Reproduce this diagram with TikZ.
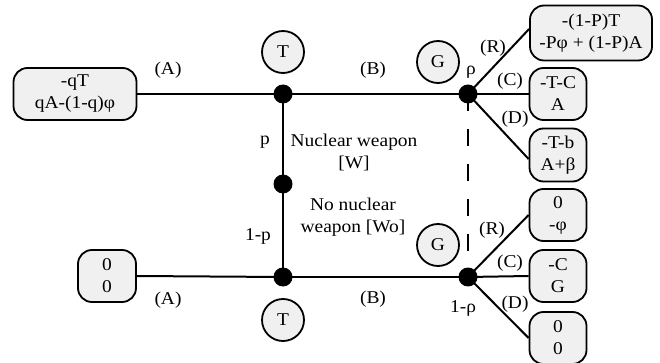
\documentclass[tikz,border=0pt]{standalone}
\usepackage{fontspec}
\setmainfont{Liberation Serif}[FakeStretch=1.08]
\pgfdeclarelayer{bg}
\pgfsetlayers{bg,main}
\begin{document}
\begin{tikzpicture}[x=1pt,y=-1pt,
  dotnode/.style={circle,fill=black,minimum size=19pt,inner sep=0pt},
  player/.style={circle,draw,line width=1.8pt,fill=black!6,minimum size=42pt,inner sep=0pt,font=\fontsize{18}{22}\selectfont},
  payoff/.style={draw,line width=1.8pt,fill=black!6,rounded corners=14pt,align=center,inner sep=0pt,font=\fontsize{18}{22}\selectfont},
  edge/.style={line width=2pt},
  lbl/.style={inner sep=0pt,align=center,font=\fontsize{18}{22}\selectfont}]
\useasboundingbox (0,0) rectangle (660,363);
% junctions
\node[dotnode] (j1) at (283,94) {};
\node[dotnode] (jm) at (283,184) {};
\node[dotnode] (j2) at (283,277) {};
\node[dotnode] (g1) at (468,94) {};
\node[dotnode] (g2) at (468,277) {};
% players
\node[player] (t1) at (283,52) {T};
\node[player] (t2) at (283,320) {T};
\node[player] (pg1) at (438,62) {G};
\node[player] (pg2) at (438,245) {G};
% payoffs
\node[payoff,minimum width=123pt,minimum height=52pt] (pl1) at (75,94) {-qT\\qA-(1-q)φ};
\node[payoff,minimum width=58pt,minimum height=52pt] (pl2) at (107,276) {0\\0};
\node[payoff,minimum width=122pt,minimum height=55pt] (pr1) at (591,33) {-(1-P)T\\-Pφ + (1-P)A};
\node[payoff,minimum width=57pt,minimum height=52pt] (pc1) at (558,94) {-T-C\\A};
\node[payoff,minimum width=57pt,minimum height=53pt] (pd1) at (558,155) {-T-b\\A+β};
\node[payoff,minimum width=57pt,minimum height=52pt] (pr2) at (558,215) {0\\-φ};
\node[payoff,minimum width=57pt,minimum height=52pt] (pc2) at (558,276) {-C\\G};
\node[payoff,minimum width=57pt,minimum height=52pt] (pd2) at (558,338) {0\\0};
% edges
\begin{pgfonlayer}{bg}
\draw[edge] (pl1.east) -- (j1.center);
\draw[edge] (j1.center) -- (g1.center);
\draw[edge] (j1.center) -- (j2.center);
\draw[edge] (pl2.east) -- (j2.center);
\draw[edge] (j2.center) -- (g2.center);
\draw[edge] (g1.center) -- ([yshift=4pt]pr1.west);
\draw[edge] (g1.center) -- (pc1.west);
\draw[edge] (g1.center) -- ([yshift=-4pt]pd1.west);
\draw[edge] (g2.center) -- (pr2.west);
\draw[edge] (g2.center) -- (pc2.west);
\draw[edge] (g2.center) -- (pd2.west);
\draw[line width=1.3pt,dash pattern=on 17pt off 18pt] (g1.center) -- (g2.center);
\end{pgfonlayer}
% labels
\node[lbl] (la1) at (168,70) {(A)};
\node[lbl] (la2) at (168,300) {(A)};
\node[lbl] (lb1) at (373,70) {(B)};
\node[lbl] (lb2) at (373,299) {(B)};
\node[lbl] (lp) at (265,142) {p};
\node[lbl] (l1p) at (258,236) {1-p};
\node[lbl] (lw) at (354,152) {Nuclear weapon\\{[}W{]}};
\node[lbl] (lwo) at (353,217) {No nuclear\\weapon [Wo]};
\node[lbl] (lrho) at (471,72) {ρ};
\node[lbl] (l1rho) at (463,308) {1-ρ};
\node[lbl] (lr1) at (493,48) {(R)};
\node[lbl] (lc1) at (510,81) {(C)};
\node[lbl] (ld1) at (515,119) {(D)};
\node[lbl] (lr2) at (492,230) {(R)};
\node[lbl] (lc2) at (510,263) {(C)};
\node[lbl] (ld2) at (515,304) {(D)};
\end{tikzpicture}
\end{document}
